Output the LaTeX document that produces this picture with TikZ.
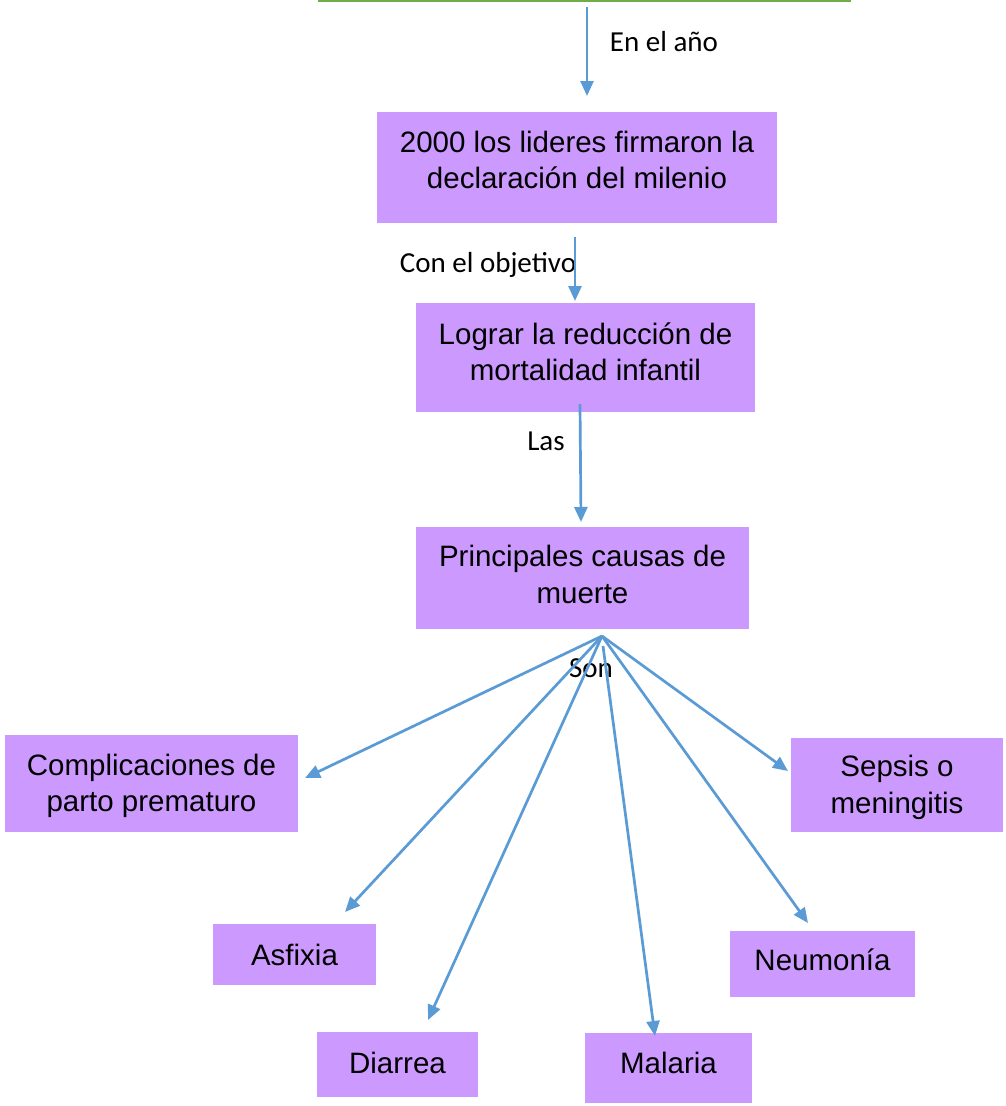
\documentclass[tikz,border=0pt]{standalone}
\usepackage{fontspec}
\setmainfont{Liberation Sans}
\newfontfamily\labfont{Carlito}
\usetikzlibrary{arrows.meta}
\definecolor{boxfill}{HTML}{CC99FF}
\definecolor{arrowblue}{HTML}{5B9BD5}
\definecolor{topgreen}{HTML}{70AD47}
\tikzset{
  box/.style={fill=boxfill, draw=none, inner sep=0pt},
  boxtext/.style={align=center, inner sep=0pt, font=\fontsize{29.5}{36.5}\selectfont},
  lab/.style={inner sep=0pt, font=\labfont\fontsize{29}{35}\selectfont},
  conn/.style={draw=arrowblue, line width=2.7pt, -{Triangle[length=15pt,width=13pt]}},
}
\begin{document}
\begin{tikzpicture}[x=1pt,y=-1pt]
\useasboundingbox (0,0) rectangle (1005,1106);
\draw[topgreen, line width=2.5pt] (318,1) -- (851,1);
% boxes
\node[box, minimum width=400pt, minimum height=111pt] (b1) at (577,167.5) {};
\node[box, minimum width=339pt, minimum height=109pt] (b2) at (585.5,357.5) {};
\node[box, minimum width=333pt, minimum height=102pt] (b3) at (582.5,578) {};
\node[box, minimum width=293pt, minimum height=97pt] (comp) at (151.5,783.5) {};
\node[box, minimum width=212pt, minimum height=94pt] (seps) at (897,785) {};
\node[box, minimum width=163pt, minimum height=61pt] (asf) at (294.5,954.5) {};
\node[box, minimum width=185pt, minimum height=66pt] (neu) at (822.5,964) {};
\node[box, minimum width=161pt, minimum height=65pt] (dia) at (397.5,1064.5) {};
\node[box, minimum width=167pt, minimum height=70pt] (mal) at (668.5,1068) {};
% box texts
\node[boxtext] (b1t) at ([yshift=7.5pt]b1.center) {2000 los lideres firmaron la\\declaración del milenio};
\node[boxtext] (b2t) at ([yshift=5.5pt]b2.center) {Lograr la reducción de\\mortalidad infantil};
\node[boxtext] (b3t) at ([yshift=3.5pt]b3.center) {Principales causas de\\muerte};
\node[boxtext] (compt) at ([yshift=-2.5pt]comp.center) {Complicaciones de\\parto prematuro};
\node[boxtext] (sepst) at ([yshift=-2.5pt]seps.center) {Sepsis o\\meningitis};
\node[boxtext] (asft) at (asf.center) {Asfixia};
\node[boxtext] (neut) at ([yshift=4pt]neu.center) {Neumonía};
\node[boxtext] (diat) at ([yshift=2pt]dia.center) {Diarrea};
\node[boxtext] (malt) at ([yshift=5pt]mal.center) {Malaria};
% labels
\node[lab] (l1) at (664,42) {En el año};
\node[lab] (l2) at (488,265) {Con el objetivo};
\node[lab] (l3) at (546,441) {Las};
\node[lab] (l4) at (591,668) {Son};
% connector end points
\coordinate (a1s) at (587,7);
\coordinate (a1e) at (587,96);
\coordinate (a2s) at (575,237);
\coordinate (a2e) at (575,301);
\coordinate (a3s) at (580,404);
\coordinate (a3e) at (581,522);
\coordinate (hub) at (602,636);
\coordinate (hubm) at (603,646);
\coordinate (tcomp) at (305,778);
\coordinate (tasf) at (345,912);
\coordinate (tdia) at (428,1020);
\coordinate (tmal) at (655,1036);
\coordinate (tneu) at (808,923);
\coordinate (tseps) at (788,771);
% connectors
\draw[conn] (a1s) -- (a1e);
\draw[conn] (a2s) -- (a2e);
\draw[conn] (a3s) -- (a3e);
\draw[conn] (hub) -- (tcomp);
\draw[conn] (hub) -- (tasf);
\draw[conn] (hub) -- (tdia);
\draw[conn] (hubm) -- (tmal);
\draw[conn] (hub) -- (tneu);
\draw[conn] (hub) -- (tseps);
\end{tikzpicture}
\end{document}
